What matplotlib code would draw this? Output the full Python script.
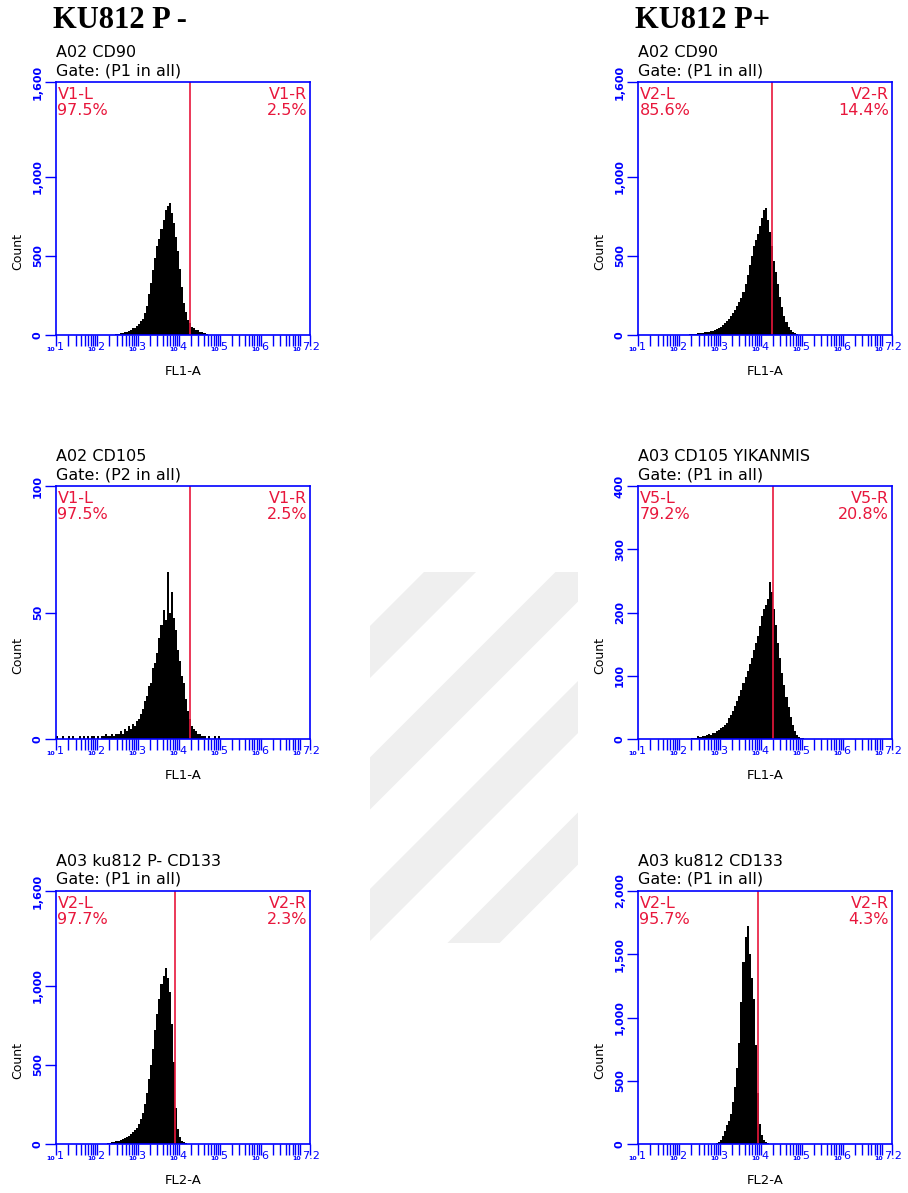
import numpy as np
import matplotlib
matplotlib.use('Agg')
import matplotlib.pyplot as plt
from matplotlib.patches import Polygon, Rectangle
from matplotlib.ticker import NullFormatter

W, H = 908, 1193
BLUE = '#0000ff'
RED = '#e8173c'
PT = 0.72          # points per pixel at dpi 100
BIN = 0.05         # histogram bin width in decades

# column headers
headers = ['KU812 P -', 'KU812 P+']

# panels: left column top->bottom, then right column top->bottom
titles = ['A02 CD90', 'A02 CD105', 'A03 ku812 P- CD133',
          'A02 CD90', 'A03 CD105 YIKANMIS', 'A03 ku812 CD133']
gates = ['Gate: (P1 in all)', 'Gate: (P2 in all)', 'Gate: (P1 in all)',
         'Gate: (P1 in all)', 'Gate: (P1 in all)', 'Gate: (P1 in all)']
channels = ['FL1-A', 'FL1-A', 'FL2-A', 'FL1-A', 'FL1-A', 'FL2-A']
left_names = ['V1-L', 'V1-L', 'V2-L', 'V2-L', 'V5-L', 'V2-L']
right_names = ['V1-R', 'V1-R', 'V2-R', 'V2-R', 'V5-R', 'V2-R']
left_pct = ['97.5%', '97.5%', '97.7%', '85.6%', '79.2%', '95.7%']
right_pct = ['2.5%', '2.5%', '2.3%', '14.4%', '20.8%', '4.3%']
gate_pos = [18600, 18600, 7940, 18600, 19300, 8300]
ymax = [1600, 100, 1600, 1600, 400, 2000]
yticks = [[0, 500, 1000, 1600], [0, 50, 100], [0, 500, 1000, 1600],
          [0, 500, 1000, 1600], [0, 100, 200, 300, 400], [0, 500, 1000, 1500, 2000]]

# x axis decades (log10) and their labels
decades = [1, 2, 3, 4, 5, 6, 7.2]
decade_labels = ['1', '2', '3', '4', '5', '6', '7.2']

# histogram counts, first bin edge in log10 units
pm_cd90_start = 2.40
pm_cd90 = [2, 5, 6, 11, 13, 19, 21, 28, 31, 42, 46, 58, 69, 88, 102, 138, 186, 258, 326, 410,
           486, 565, 610, 672, 725, 790, 815, 832, 770, 710, 620, 530, 415, 305, 200, 145, 95, 74,
           52, 44, 31, 29, 21, 17, 10, 8, 3, 2]

pm_cd105_start = 1.00
pm_cd105 = [1, 0, 0, 1, 0, 0, 1, 0, 1, 0, 0, 1, 0, 1, 0, 1, 0, 1, 1, 0, 1, 0, 1, 1, 2, 1, 1, 2, 1, 2,
            2, 3, 2, 4, 3, 5, 4, 6, 5, 7, 8, 10, 12, 15, 17, 21, 22, 28, 30, 34, 40, 45, 51, 47,
            66, 50, 58, 48, 43, 35, 31, 25, 22, 16, 11, 8, 5, 4, 3, 2, 2, 1, 1, 0, 1, 0, 0, 1, 0, 1]

pm_cd133_start = 2.20
pm_cd133 = [3, 5, 8, 10, 13, 16, 20, 25, 30, 36, 44, 52, 62, 74, 88, 104, 125, 155, 195, 250,
            320, 410, 500, 600, 720, 820, 920, 1010, 1060, 1110, 1050, 960, 760, 520, 230, 95,
            45, 22, 10, 5, 2]

pp_cd90_start = 2.20
pp_cd90 = [2, 4, 5, 7, 8, 10, 12, 14, 16, 18, 22, 25, 28, 33, 38, 44, 52, 62, 75, 88, 102, 118,
           140, 160, 185, 210, 235, 270, 320, 380, 440, 500, 560, 600, 640, 690, 740, 790, 805,
           730, 650, 560, 470, 400, 320, 240, 180, 120, 80, 50, 32, 18, 10, 5, 2]

pp_cd105_start = 2.30
pp_cd105 = [1, 2, 2, 4, 3, 5, 4, 6, 8, 7, 10, 9, 12, 14, 17, 19, 22, 26, 33, 38, 45, 52, 60, 68,
            78, 88, 98, 108, 118, 128, 140, 152, 163, 178, 195, 205, 212, 222, 248, 232, 205,
            180, 152, 128, 104, 85, 66, 50, 35, 22, 12, 6, 3, 2, 1]

pp_cd133_start = 2.90
pp_cd133 = [5, 12, 30, 60, 100, 150, 185, 235, 330, 450, 600, 800, 1120, 1440, 1640, 1720, 1500,
            1310, 1150, 780, 400, 160, 75, 35, 12, 4]

hist_start = [pm_cd90_start, pm_cd105_start, pm_cd133_start,
              pp_cd90_start, pp_cd105_start, pp_cd133_start]
hist_counts = [pm_cd90, pm_cd105, pm_cd133, pp_cd90, pp_cd105, pp_cd133]

# layout in pixels
col_left = [56, 638]
row_bottom = [335, 739, 1144]
box_w, box_h = 254, 253

plt.rcParams['font.family'] = ['DejaVu Sans']
fig = plt.figure(figsize=(W / 100, H / 100), dpi=100)

# background watermark stripes
bg = fig.add_axes([0, 0, 1, 1])
bg.set_xlim(0, W)
bg.set_ylim(H, 0)
bg.axis('off')
clip = Rectangle((370, 572), 208, 371, transform=bg.transData, facecolor='none', edgecolor='none')
bg.add_patch(clip)
for c in [996, 1127.5, 1259, 1390.5]:
    poly = Polygon([(c + 500, -500), (c + 552, -500), (c + 52 - 1700, 1700), (c - 1700, 1700)],
                   closed=True, facecolor='#efefef', edgecolor='none')
    bg.add_patch(poly)
    poly.set_clip_path(clip)

for i, txt in enumerate(headers):
    fig.text([53, 635][i] / W, 1 - 28 / H, txt, fontfamily='Liberation Serif',
             fontweight='bold', fontsize=22, va='baseline', ha='left')

majors = [10 ** d for d in decades]
minors = [k * 10 ** n for n in range(1, 8) for k in range(2, 10) if k * 10 ** n < 10 ** 7.2]


def ann(ax, s, xy, dx, dy, **kw):
    ax.annotate(s, xy=xy, xycoords='axes fraction', xytext=(dx * PT, dy * PT),
                textcoords='offset points', annotation_clip=False, **kw)


for i in range(6):
    col, row = i // 3, i % 3
    left = col_left[col]
    bottom = row_bottom[row]
    ax = fig.add_axes([left / W, 1 - bottom / H, box_w / W, box_h / H])

    edges = 10 ** (hist_start[i] + BIN * np.arange(len(hist_counts[i]) + 1))
    ax.stairs(hist_counts[i], edges, fill=True, color='black', linewidth=0)
    ax.axvline(gate_pos[i], color=RED, lw=1.2)

    ax.set_xscale('log')
    ax.set_xlim(10, 10 ** 7.2)
    ax.set_ylim(0, ymax[i])
    ax.set_xticks(majors, labels=[''] * len(majors))
    ax.set_xticks(minors, minor=True)
    ax.xaxis.set_minor_formatter(NullFormatter())
    ax.set_yticks(yticks[i], labels=[f'{v:,}' for v in yticks[i]])
    ax.tick_params(axis='both', which='both', direction='out', color=BLUE, length=8, width=1.0)
    ax.tick_params(axis='y', labelcolor=BLUE, labelsize=8, pad=5)
    for lab in ax.get_yticklabels():
        lab.set_rotation(90)
        lab.set_va('center')
        lab.set_ha('center')
        lab.set_fontweight('bold')
    for sp in ax.spines.values():
        sp.set_color(BLUE)
        sp.set_linewidth(1.2)

    for d, lab in zip(decades, decade_labels):
        shift = -8 if d == decades[-1] else 0
        ax.annotate('10', xy=(10 ** d, 0), xycoords=('data', 'axes fraction'),
                    xytext=((shift - 1) * PT, -16 * PT), textcoords='offset points',
                    ha='right', va='baseline', fontsize=4.5, fontweight='bold', color=BLUE,
                    annotation_clip=False)
        ax.annotate(lab, xy=(10 ** d, 0), xycoords=('data', 'axes fraction'),
                    xytext=((shift + 0.5) * PT, -15 * PT), textcoords='offset points',
                    ha='left', va='baseline', fontsize=8, color=BLUE, annotation_clip=False)

    ann(ax, channels[i], (0.5, 0), 0, -40, ha='center', va='baseline', fontsize=9.5)
    ann(ax, 'Count', (0, 0.33), -38, 0, ha='center', va='center', rotation=90, fontsize=9)
    ann(ax, titles[i], (0, 1), 0, 25, ha='left', va='baseline', fontsize=11.5)
    ann(ax, gates[i], (0, 1), 0, 7, ha='left', va='baseline', fontsize=11.5)
    ann(ax, left_names[i], (0, 1), 1.5, -17, ha='left', va='baseline', fontsize=11.5, color=RED)
    ann(ax, left_pct[i], (0, 1), 1.5, -33, ha='left', va='baseline', fontsize=11.5, color=RED)
    ann(ax, right_names[i], (1, 1), -3, -17, ha='right', va='baseline', fontsize=11.5, color=RED)
    ann(ax, right_pct[i], (1, 1), -3, -33, ha='right', va='baseline', fontsize=11.5, color=RED)

fig.savefig('out.png', dpi=100)
